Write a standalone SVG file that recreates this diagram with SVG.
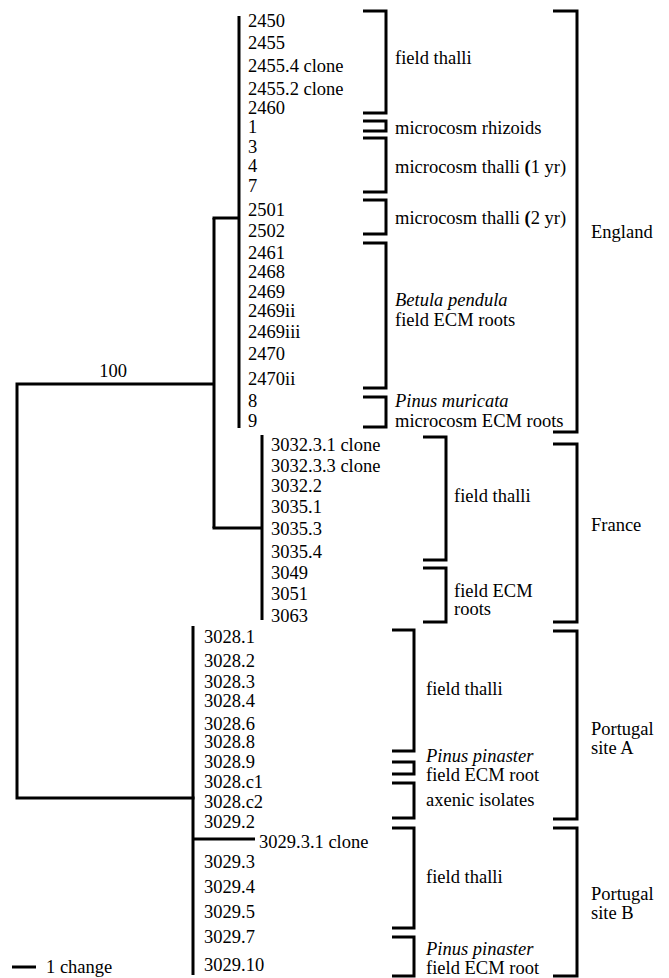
<svg xmlns="http://www.w3.org/2000/svg" width="669" height="978" viewBox="0 0 669 978">
<style>
text{font-family:'Liberation Serif','DejaVu Serif',serif;font-size:18.5px;fill:#000}
.it{font-style:italic}
.b{font-weight:bold}
.ln{fill:none;stroke:#000;stroke-width:3;stroke-linecap:butt;stroke-linejoin:miter}
.br{fill:none;stroke:#000;stroke-width:3;stroke-linejoin:miter}
</style>
<rect width="669" height="978" fill="#fff"/>
<g id="connectors">
<path class="ln" d="M239,16 V428"/>
<path class="ln" d="M239,218 H212.5"/>
<path class="ln" d="M262,435 V620"/>
<path class="ln" d="M262,528 H212.5"/>
<path class="ln" d="M214,218 V528"/>
<path class="ln" d="M214,384 H17 V798 H194.5"/>
<path class="ln" d="M193,626 V975"/>
<path class="ln" d="M193,839 H255"/>
<path class="ln" d="M12,967 H36"/>
</g>
<g id="support"><text x="113" y="377" text-anchor="middle">100</text></g>
<g id="scale"><text x="46" y="973">1 change</text></g>
<g id="england-tips">
<g id="t2450"><text x="248" y="27">2450</text></g>
<g id="t2455"><text x="248" y="49">2455</text></g>
<g id="t2455-4"><text x="248" y="72">2455.4 clone</text></g>
<g id="t2455-2"><text x="248" y="95">2455.2 clone</text></g>
<g id="t2460"><text x="248" y="114">2460</text></g>
<g id="t1"><text x="248" y="133">1</text></g>
<g id="t3"><text x="248" y="153">3</text></g>
<g id="t4"><text x="248" y="172">4</text></g>
<g id="t7"><text x="248" y="192">7</text></g>
<g id="t2501"><text x="248" y="216">2501</text></g>
<g id="t2502"><text x="248" y="237">2502</text></g>
<g id="t2461"><text x="248" y="259">2461</text></g>
<g id="t2468"><text x="248" y="278">2468</text></g>
<g id="t2469"><text x="248" y="298">2469</text></g>
<g id="t2469ii"><text x="248" y="317">2469ii</text></g>
<g id="t2469iii"><text x="248" y="338">2469iii</text></g>
<g id="t2470"><text x="248" y="360">2470</text></g>
<g id="t2470ii"><text x="248" y="385">2470ii</text></g>
<g id="t8"><text x="248" y="407">8</text></g>
<g id="t9"><text x="248" y="427">9</text></g>
</g>
<g id="france-tips">
<g id="t3032-3-1"><text x="271" y="451">3032.3.1 clone</text></g>
<g id="t3032-3-3"><text x="271" y="472">3032.3.3 clone</text></g>
<g id="t3032-2"><text x="271" y="492">3032.2</text></g>
<g id="t3035-1"><text x="271" y="513">3035.1</text></g>
<g id="t3035-3"><text x="271" y="535">3035.3</text></g>
<g id="t3035-4"><text x="271" y="558">3035.4</text></g>
<g id="t3049"><text x="271" y="579">3049</text></g>
<g id="t3051"><text x="271" y="600">3051</text></g>
<g id="t3063"><text x="271" y="622">3063</text></g>
</g>
<g id="portugal-tips">
<g id="t3028-1"><text x="204" y="643">3028.1</text></g>
<g id="t3028-2"><text x="204" y="667">3028.2</text></g>
<g id="t3028-3"><text x="204" y="688">3028.3</text></g>
<g id="t3028-4"><text x="204" y="707">3028.4</text></g>
<g id="t3028-6"><text x="204" y="730">3028.6</text></g>
<g id="t3028-8"><text x="204" y="748">3028.8</text></g>
<g id="t3028-9"><text x="204" y="768">3028.9</text></g>
<g id="t3028-c1"><text x="204" y="788">3028.c1</text></g>
<g id="t3028-c2"><text x="204" y="808">3028.c2</text></g>
<g id="t3029-2"><text x="204" y="828">3029.2</text></g>
<g id="t3029-3-1"><text x="259" y="848">3029.3.1 clone</text></g>
<g id="t3029-3"><text x="204" y="868">3029.3</text></g>
<g id="t3029-4"><text x="204" y="893">3029.4</text></g>
<g id="t3029-5"><text x="204" y="918">3029.5</text></g>
<g id="t3029-7"><text x="204" y="943">3029.7</text></g>
<g id="t3029-10"><text x="204" y="971">3029.10</text></g>
</g>
<g id="groups">
<g id="g-eng-field"><path class="br" d="M363,11 H386 V113 H363"/><text x="395" y="64">field thalli</text></g>
<g id="g-eng-rhiz"><path class="br" d="M363,121 H386 V131 H363"/><text x="395" y="134">microcosm rhizoids</text></g>
<g id="g-eng-mt1"><path class="br" d="M363,138 H386 V192 H363"/><text x="395" y="173">microcosm thalli <tspan class="b">(</tspan>1 yr)</text></g>
<g id="g-eng-mt2"><path class="br" d="M363,200 H386 V234 H363"/><text x="395" y="224">microcosm thalli <tspan class="b">(</tspan>2 yr)</text></g>
<g id="g-eng-betula"><path class="br" d="M363,243 H386 V388 H363"/><text x="395" y="306" class="it">Betula pendula</text><text x="395" y="326">field ECM roots</text></g>
<g id="g-eng-pinus"><path class="br" d="M363,397 H386 V427 H363"/><text x="395" y="407" class="it">Pinus muricata</text><text x="395" y="427">microcosm ECM roots</text></g>
<g id="g-fr-field"><path class="br" d="M423,437 H446 V560 H423"/><text x="454" y="502">field thalli</text></g>
<g id="g-fr-ecm"><path class="br" d="M423,568 H446 V622 H423"/><text x="454" y="597">field ECM</text><text x="454" y="615">roots</text></g>
<g id="g-pa-field"><path class="br" d="M392,630 H414 V751 H392"/><text x="426" y="695">field thalli</text></g>
<g id="g-pa-pinus"><path class="br" d="M392,762 H414 V774 H392"/><text x="426" y="762" class="it">Pinus pinaster</text><text x="426" y="781">field ECM root</text></g>
<g id="g-pa-axenic"><path class="br" d="M392,783 H414 V818 H392"/><text x="426" y="806">axenic isolates</text></g>
<g id="g-pb-field"><path class="br" d="M392,828 H414 V928 H392"/><text x="426" y="883">field thalli</text></g>
<g id="g-pb-pinus"><path class="br" d="M392,937 H414 V976 H392"/><text x="426" y="955" class="it">Pinus pinaster</text><text x="426" y="974">field ECM root</text></g>
</g>
<g id="regions">
<g id="r-england"><path class="br" d="M553,11 H577 V432 H553"/><text x="591" y="238">England</text></g>
<g id="r-france"><path class="br" d="M553,444 H577 V622 H553"/><text x="591" y="531">France</text></g>
<g id="r-portugal-a"><path class="br" d="M553,631 H577 V819 H553"/><text x="591" y="735">Portugal</text><text x="591" y="754">site A</text></g>
<g id="r-portugal-b"><path class="br" d="M553,828 H577 V976 H553"/><text x="591" y="900">Portugal</text><text x="591" y="919">site B</text></g>
</g>
</svg>
